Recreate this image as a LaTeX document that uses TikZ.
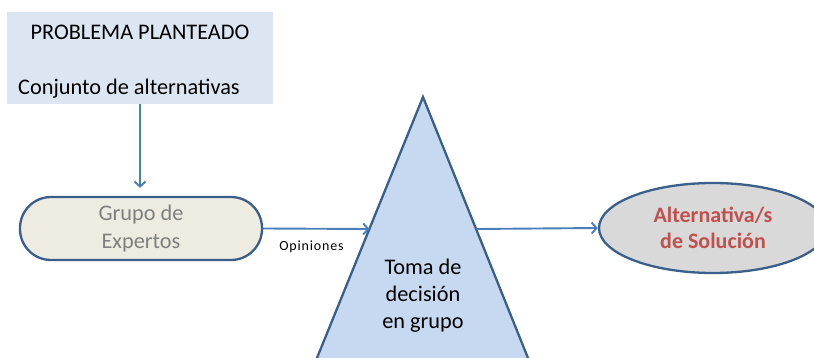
\documentclass[tikz,border=0pt]{standalone}
\usepackage{fontspec}
\setmainfont{Carlito}
\usetikzlibrary{arrows.meta,shapes.geometric}
\definecolor{probfill}{HTML}{DCE6F2}
\definecolor{expfill}{HTML}{EEECE1}
\definecolor{trifill}{HTML}{C6D9F1}
\definecolor{ellfill}{HTML}{D9D9D9}
\definecolor{edge}{HTML}{3A5F8B}
\definecolor{arrowc}{HTML}{4A7EBB}
\definecolor{greytxt}{HTML}{7F7F7F}
\definecolor{redtxt}{HTML}{C0504D}
\tikzset{
  bigtxt/.style={font=\fontsize{22.3}{27}\selectfont, inner sep=0pt},
  arr/.style={draw=arrowc, line width=1.9pt, -{Straight Barb[length=5pt,width=11pt,line width=1.9pt]}},
  probbox/.style={fill=probfill, draw=none, minimum width=266pt, minimum height=92pt, inner sep=0pt},
  expbox/.style={fill=expfill, draw=edge, line width=2.3pt, rounded corners=31pt, minimum width=242pt, minimum height=63pt, inner sep=0pt, text=greytxt, align=center, font=\fontsize{22.3}{28}\selectfont},
  ellbox/.style={ellipse, fill=ellfill, draw=edge, line width=2.3pt, minimum width=228pt, minimum height=90pt, inner sep=0pt, text=redtxt, align=center, font=\bfseries\fontsize{22}{26}\selectfont},
}
\begin{document}
\begin{tikzpicture}[x=1pt,y=-1pt]
\useasboundingbox (0,0) rectangle (814,358);
\clip (0,0) rectangle (814,358);
% problem box
\node[probbox] (prob) at (140,58) {};
\node[bigtxt, anchor=base] (t1) at (140,39.5) {PROBLEMA PLANTEADO};
\node[bigtxt, anchor=base west] (t2) at (18,95) {Conjunto de alternativas};
% experts
\node[expbox] (exp) at (141,228.5) {Grupo de\\Expertos};
% triangle
\coordinate (apex) at (423,97);
\coordinate (bl) at (312.1,370);
\coordinate (br) at (532.8,370);
\filldraw[fill=trifill, draw=edge, line width=2.3pt, line join=miter] (bl) -- (apex) -- (br) -- cycle;
\node[bigtxt, align=center] (toma) at (423,296) {Toma de\\decisión\\en grupo};
\coordinate (tl) at (369.5,229);
\coordinate (tr) at (476.5,229);
% solution ellipse
\node[ellbox] (sol) at (713,228) {Alternativa/s\\de Solución};
% connectors
\draw[arr, shorten >=8pt] (prob.south) -- (prob.south |- exp.north);
\draw[arr] (exp.east) -- (tl);
\node[font=\fontsize{14}{16}\selectfont\addfontfeature{LetterSpace=6}, anchor=base, inner sep=0pt] (op) at (311.5,250.5) {Opiniones};
\draw[arr] (tr) -- (sol.west);
\end{tikzpicture}
\end{document}
